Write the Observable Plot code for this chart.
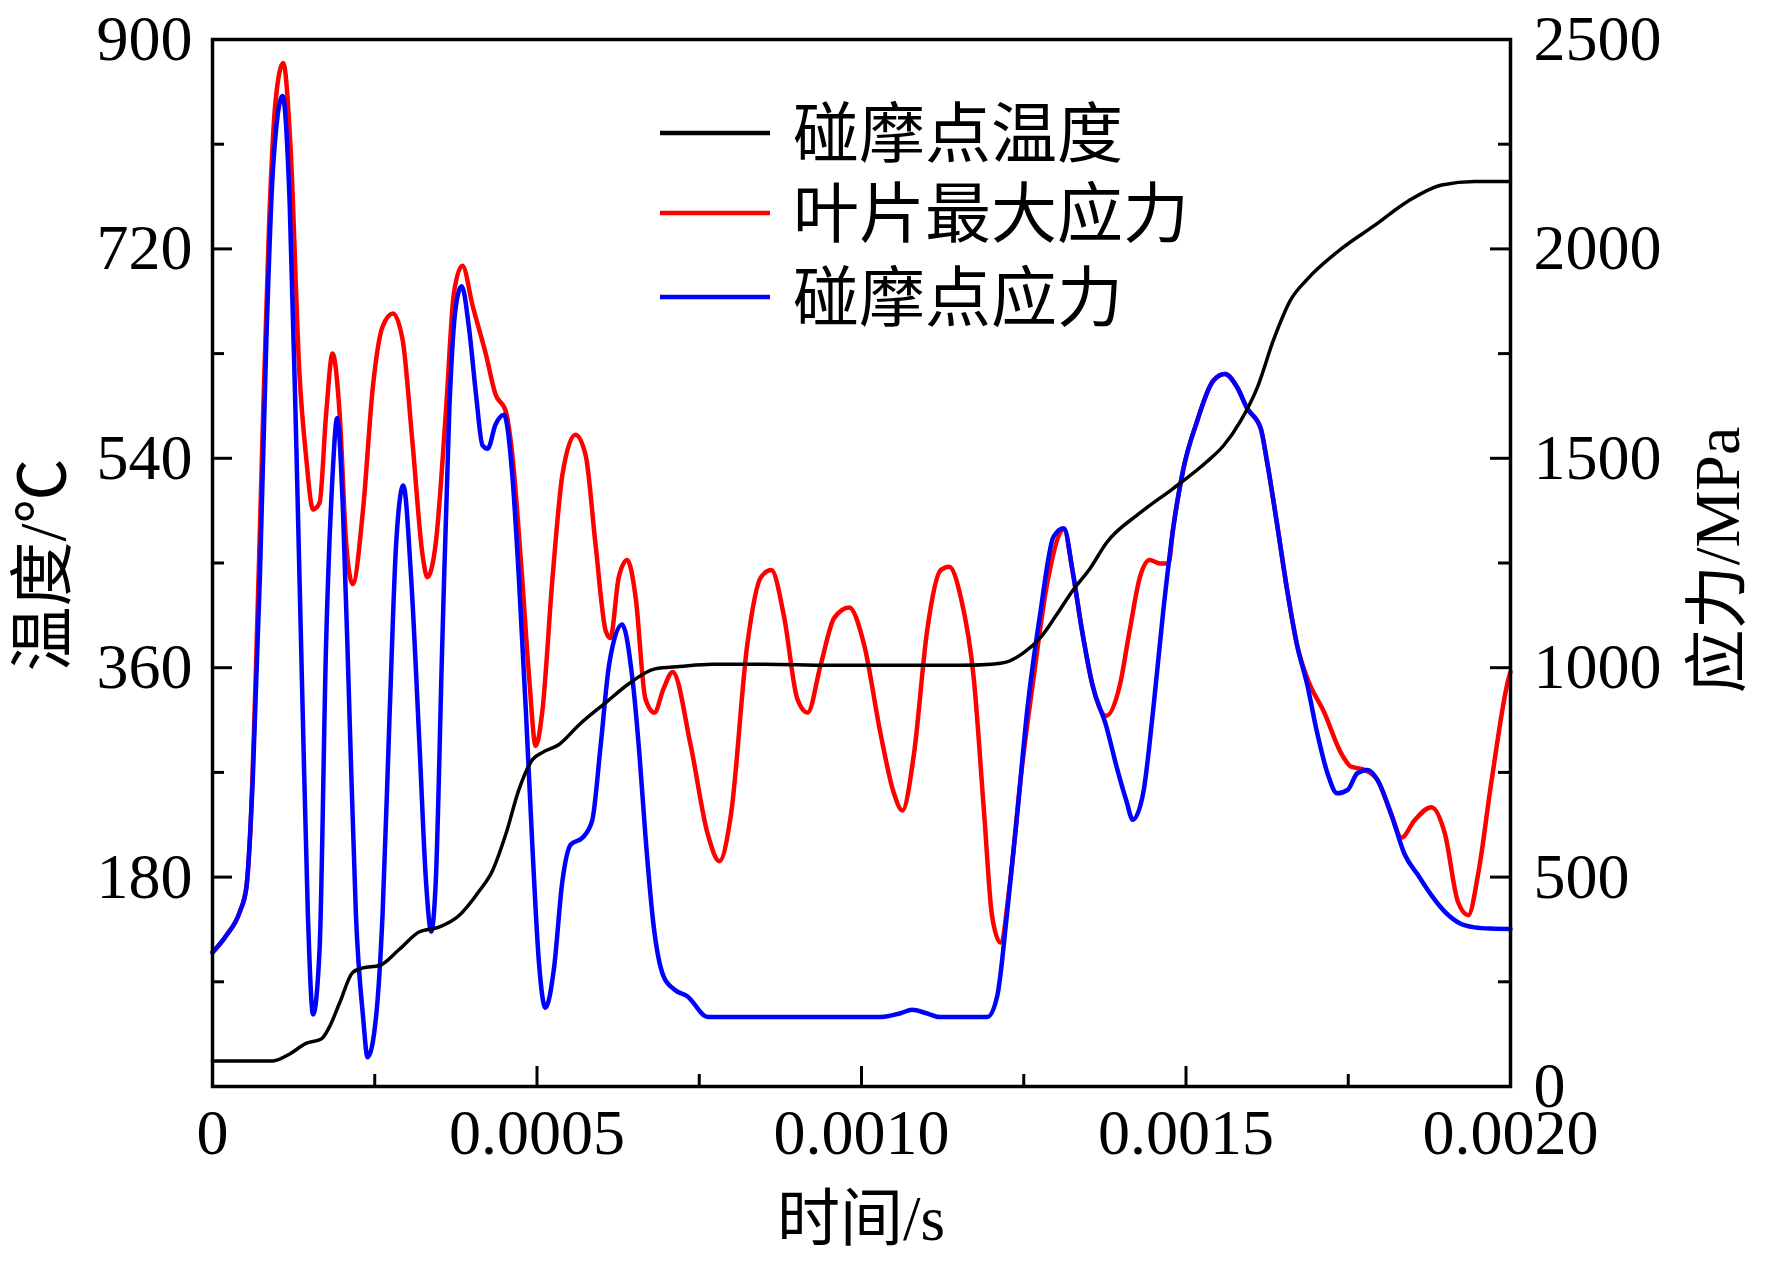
<!DOCTYPE html>
<html><head><meta charset="utf-8">
<script src="https://cdn.jsdelivr.net/npm/d3@7"></script>
<script src="https://cdn.jsdelivr.net/npm/@observablehq/plot@0.6"></script>
<style>
html,body{margin:0;padding:0;background:#fff;}
#chart{position:relative;width:1772px;height:1261px;}
</style></head><body><div id="chart"></div>
<script>
// ---- data (time in s) ----
const tempTime = [0, 0.00005, 0.000093, 0.000119, 0.000144, 0.000168, 0.00018, 0.000196, 0.000216, 0.000232,
  0.000257, 0.000288, 0.000319, 0.000349, 0.00038, 0.000411, 0.000431, 0.000452, 0.000472, 0.000493,
  0.000508, 0.000534, 0.000565, 0.000606, 0.000641, 0.000682, 0.00072, 0.00077, 0.00085, 0.00095,
  0.00105, 0.00115, 0.0012, 0.001224, 0.00125, 0.001276, 0.0013, 0.001325, 0.001353, 0.001377,
  0.001429, 0.00148, 0.001532, 0.001558, 0.001584, 0.00161, 0.001635, 0.001661, 0.001687, 0.001739,
  0.00179, 0.001842, 0.001894, 0.001945, 0.002];
const tempValue = [22, 22, 22, 28, 37, 41, 51, 72, 98, 102,
  104, 118, 133, 137, 147, 168, 185, 217, 255, 281,
  287, 294, 311, 330, 346, 359, 361, 363, 363, 362,
  362, 362, 363, 365, 373, 386, 405, 426, 446, 467,
  493, 514, 537, 551, 572, 601, 642, 676, 694, 720,
  740, 761, 775, 778, 778];

const bladeTime = [0, 0.21, 0.42, 0.52, 0.58, 0.67, 0.77, 0.87, 0.97, 1.09,
  1.2, 1.34, 1.44, 1.55, 1.65, 1.75, 1.85, 1.96, 2.06, 2.16,
  2.32, 2.47, 2.62, 2.78, 2.93, 3.08, 3.24, 3.31, 3.44, 3.60,
  3.72, 3.85, 4.01, 4.21, 4.36, 4.52, 4.62, 4.77, 4.88, 4.98,
  5.08, 5.24, 5.39, 5.59, 5.75, 5.90, 6.06, 6.13, 6.26, 6.39,
  6.52, 6.67, 6.81, 6.95, 7.09, 7.37, 7.63, 7.81, 7.99, 8.24,
  8.45, 8.61, 8.81, 9.01, 9.17, 9.37, 9.58, 9.81, 10.04, 10.29,
  10.50, 10.63, 10.81, 11.01, 11.22, 11.35, 11.53, 11.73, 11.89, 12.01,
  12.14, 12.29, 12.45, 12.65, 12.86, 13.12, 13.25, 13.40, 13.56, 13.77,
  13.98, 14.13, 14.29, 14.44, 14.60, 14.73, 14.80, 14.96, 15.17, 15.42,
  15.60, 15.79, 15.94, 16.15, 16.25, 16.40, 16.56, 16.71, 16.87, 17.13,
  17.39, 17.54, 17.75, 17.95, 18.16, 18.32, 18.52, 18.78, 18.99, 19.19,
  19.35, 19.50, 19.71, 19.97, 20]; // ×1e-4 s
const bladeStress = [320, 360, 417, 473, 600, 1000, 1550, 2050, 2350, 2444,
  2250, 1701, 1507, 1378, 1394, 1604, 1750, 1604, 1297, 1200,
  1378, 1669, 1814, 1846, 1782, 1540, 1265, 1216, 1297, 1620,
  1895, 1960, 1863, 1750, 1653, 1612, 1507, 1216, 974, 813,
  893, 1216, 1459, 1556, 1507, 1297, 1087, 1071, 1216, 1257,
  1168, 926, 893, 950, 990, 813, 603, 538, 651, 1055,
  1216, 1233, 1119, 926, 893, 1006, 1119, 1144, 1055, 845,
  700, 659, 796, 1087, 1233, 1241, 1168, 974, 651, 409,
  344, 489, 732, 974, 1200, 1330, 1233, 1087, 958, 885,
  958, 1087, 1216, 1257, 1249, 1249, 1330, 1475, 1588, 1685,
  1701, 1669, 1620, 1572, 1491, 1346, 1184, 1055, 974, 893,
  796, 764, 756, 732, 651, 594, 635, 667, 603, 441,
  409, 506, 732, 974, 990];

const pointTime = [0, 0.21, 0.42, 0.52, 0.62, 0.73, 0.83, 0.93, 1.08, 1.19,
  1.29, 1.39, 1.47, 1.55, 1.65, 1.75, 1.85, 1.92, 2.01, 2.11,
  2.21, 2.32, 2.39, 2.52, 2.62, 2.73, 2.83, 2.94, 3.06, 3.19,
  3.29, 3.37, 3.44, 3.54, 3.65, 3.75, 3.84, 3.95, 4.06, 4.16,
  4.24, 4.36, 4.49, 4.62, 4.72, 4.83, 4.93, 5.03, 5.13, 5.26,
  5.39, 5.52, 5.70, 5.85, 5.98, 6.11, 6.31, 6.47, 6.58, 6.67,
  6.80, 6.95, 7.12, 7.32, 7.63, 8.5, 9.5, 10.3, 10.6, 10.78,
  11.0, 11.2, 11.94, 12.09, 12.24, 12.40, 12.55, 12.76, 12.96, 13.12,
  13.25, 13.40, 13.56, 13.77, 13.93, 14.08, 14.18, 14.34, 14.49, 14.65,
  14.80, 14.96, 15.17, 15.42, 15.60, 15.79, 15.94, 16.15, 16.25, 16.40,
  16.56, 16.71, 16.87, 17.02, 17.18, 17.33, 17.49, 17.64, 17.80, 17.95,
  18.16, 18.37, 18.57, 18.78, 18.99, 19.24, 19.45, 19.7, 20]; // ×1e-4 s
const pointStress = [320, 360, 417, 473, 732, 1216, 1782, 2186, 2365, 2105,
  1540, 893, 409, 172, 328, 1055, 1459, 1596, 1378, 893,
  409, 166, 70, 166, 409, 893, 1297, 1435, 1216, 813,
  489, 370, 489, 1055, 1620, 1863, 1911, 1814, 1653, 1531,
  1523, 1580, 1604, 1459, 1216, 893, 570, 296, 188, 280,
  489, 578, 594, 635, 813, 1006, 1103, 974, 790, 600,
  380, 263, 231, 215, 166, 166, 166, 166, 175, 183,
  175, 166, 166, 215, 409, 651, 893, 1136, 1313, 1333,
  1233, 1087, 958, 861, 764, 683, 637, 700, 893, 1136,
  1330, 1475, 1588, 1685, 1701, 1669, 1620, 1572, 1491, 1346,
  1184, 1055, 958, 845, 748, 700, 708, 748, 756, 732,
  651, 554, 506, 457, 417, 388, 380, 377, 376];

const xTickValues = [0, 0.0005, 0.0010, 0.0015, 0.0020];
const xTickLabels = ["0", "0.0005", "0.0010", "0.0015", "0.0020"];
const tempTickValues = [180, 360, 540, 720, 900];
const stressTickValues = [0, 500, 1000, 1500, 2000, 2500];
const legendLabels = ["碰摩点温度", "叶片最大应力", "碰摩点应力"];
const legendColors = ["#000000", "#ff0000", "#0000ff"];

// ---- build ----
const W = 1772, H = 1261, mL = 212, mR = 262, mT = 39, mB = 175;
const pw = W - mL - mR, ph = H - mT - mB;
const k = 2500 / 900; // temperature -> stress-axis units
const temp = tempTime.map((t, i) => ({t, v: tempValue[i] * k}));
const blade = bladeTime.map((t, i) => ({t: t * 1e-4, v: bladeStress[i]}));
const point = pointTime.map((t, i) => ({t: t * 1e-4, v: pointStress[i]}));
const yMajor = [500, 1000, 1500, 2000];
const yMinor = [250, 750, 1250, 1750, 2250];
const xMajor = [0.0005, 0.0010, 0.0015];
const xMinor = [0.00025, 0.00075, 0.00125, 0.00175];
const tk = {stroke: "#000", strokeWidth: 3};

const plot = Plot.plot({
  width: W, height: H, marginLeft: mL, marginRight: mR, marginTop: mT, marginBottom: mB,
  style: {fontFamily: "'Liberation Serif','Times New Roman',serif", fontSize: "64px", color: "#000", background: "#fff", overflow: "visible"},
  x: {domain: [0, 0.002]},
  y: {domain: [0, 2500]},
  marks: [
    Plot.line(blade, {x: "t", y: "v", stroke: legendColors[1], strokeWidth: 4.5, curve: "monotone-x"}),
    Plot.line(point, {x: "t", y: "v", stroke: legendColors[2], strokeWidth: 4.5, curve: "monotone-x"}),
    Plot.line(temp, {x: "t", y: "v", stroke: legendColors[0], strokeWidth: 3.5, curve: "monotone-x"}),
    Plot.tickY(yMajor, {y: d => d, insetRight: pw - 20, ...tk}),
    Plot.tickY(yMinor, {y: d => d, insetRight: pw - 12, ...tk}),
    Plot.tickY(yMajor, {y: d => d, insetLeft: pw - 20, ...tk}),
    Plot.tickY(yMinor, {y: d => d, insetLeft: pw - 12, ...tk}),
    Plot.tickX(xMajor, {x: d => d, insetTop: ph - 20, ...tk}),
    Plot.tickX(xMinor, {x: d => d, insetTop: ph - 12, ...tk}),
    Plot.axisY(tempTickValues.map(d => d * k), {anchor: "left", tickSize: 0, tickPadding: 20, label: null,
      tickFormat: d => String(Math.round(d / k))}),
    Plot.axisY(stressTickValues, {anchor: "right", tickSize: 0, tickPadding: 23, label: null,
      tickFormat: d => String(d)}),
    Plot.axisX(xTickValues, {anchor: "bottom", tickSize: 0, tickPadding: 22, label: null,
      tickFormat: d => xTickLabels[xTickValues.indexOf(d)]}),
    Plot.frame({stroke: "#000", strokeWidth: 3.5})
  ]
});
document.getElementById("chart").appendChild(plot);

const svg = d3.select(plot);
const cjk = "'Liberation Serif','Noto Sans CJK SC',serif";
// legend
const lg = svg.append("g");
legendLabels.forEach((lab, i) => {
  const y = [133, 213, 297][i];
  lg.append("line").attr("x1", 660).attr("x2", 770).attr("y1", y).attr("y2", y)
    .attr("stroke", legendColors[i]).attr("stroke-width", 4.5);
  lg.append("text").attr("x", 793).attr("y", y).attr("dy", "0.36em").attr("text-anchor", "start")
    .attr("font-family", cjk).attr("font-size", 66).attr("fill", "#000").text(lab);
});
// axis titles
svg.append("text").attr("transform", "translate(42,565) rotate(-90)").attr("text-anchor", "middle")
  .attr("dy", "0.36em").attr("font-family", cjk).attr("font-size", 65).attr("fill", "#000").text("温度/℃");
svg.append("text").attr("transform", "translate(1716,560) rotate(-90)").attr("text-anchor", "middle")
  .attr("dy", "0.36em").attr("font-family", cjk).attr("font-size", 64).attr("fill", "#000").text("应力/MPa");
svg.append("text").attr("x", mL + pw / 2).attr("y", 1240).attr("text-anchor", "middle")
  .attr("font-family", cjk).attr("font-size", 63).attr("fill", "#000").text("时间/s");
</script>
</body></html>
